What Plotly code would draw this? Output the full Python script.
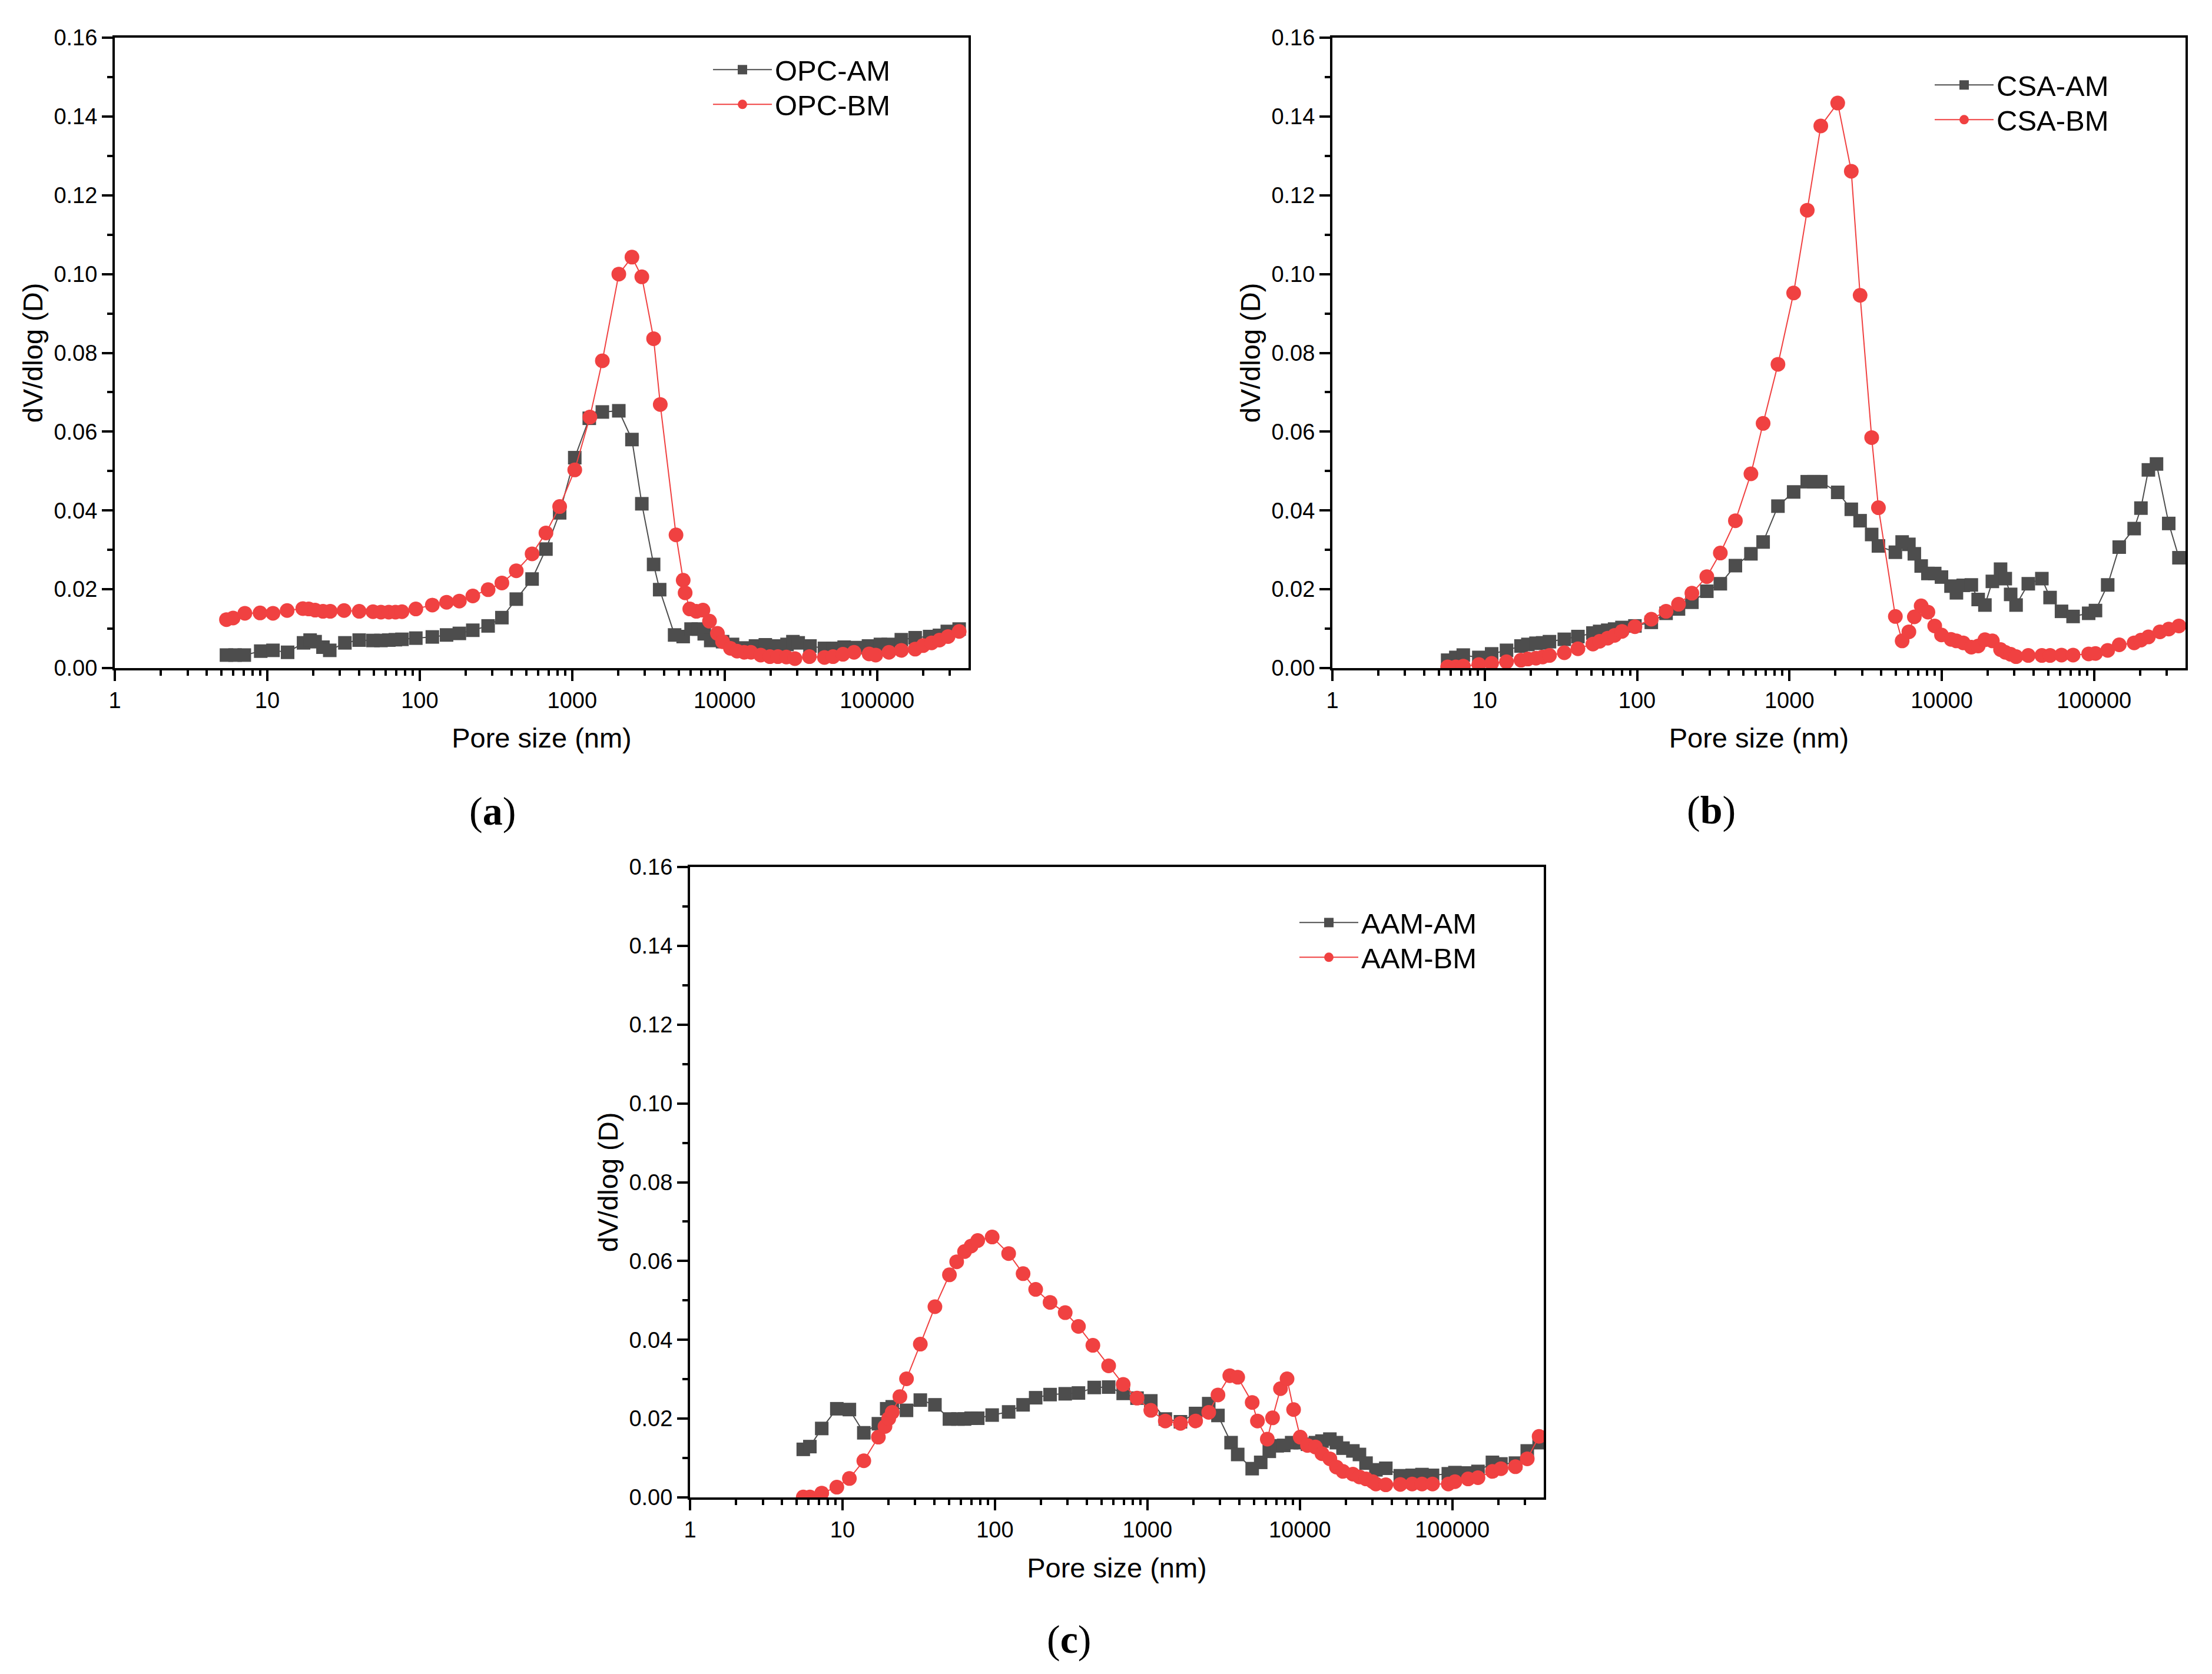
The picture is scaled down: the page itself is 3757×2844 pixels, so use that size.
import plotly.graph_objects as go

W, H = 3757, 2844
PAGE_MARGIN = 8  # default body margin of the html page

# ---------------- data ----------------
# (a) OPC
opc_am_x = [5.4, 6.15, 7.07, 9.06, 10.9, 13.6, 17.3, 19.1, 20.6, 23.2, 25.7, 32.3, 40.1, 49.4, 55.7,
            62.7, 69.3, 76.5, 94.3, 121, 150, 182, 223, 281, 346, 430, 546, 673, 828, 1040,
            1295, 1578, 2023, 2467, 2864, 3422, 3750, 4700, 5350, 6025, 6725, 7350, 8110, 9700, 11270,
            13470, 15950, 18500, 21480, 25670, 28060, 30390, 36310, 45180, 51420, 60840, 72780, 87880,
            105200, 118400, 144300, 177800, 221300, 256700, 289000, 345600]
opc_am_y = [0.0033, 0.0033, 0.0033, 0.0043, 0.0045, 0.0040, 0.0064, 0.0071, 0.0067, 0.0053,
            0.0045, 0.0064, 0.0071, 0.0070, 0.0070, 0.0071, 0.0072, 0.0073, 0.0076, 0.0079,
            0.0084, 0.0088, 0.0096, 0.0107, 0.0128, 0.0175, 0.0226, 0.0302, 0.0394, 0.0534,
            0.0634, 0.0650, 0.0653, 0.0580, 0.0417, 0.0263, 0.0199, 0.0084, 0.0080, 0.0099,
            0.0099, 0.0087, 0.0070, 0.0067, 0.0060, 0.0051, 0.0056, 0.0059, 0.0056, 0.0060,
            0.0067, 0.0064, 0.0056, 0.0050, 0.0050, 0.0053, 0.0052, 0.0056, 0.0060, 0.0060,
            0.0072, 0.0077, 0.0080, 0.0083, 0.0093, 0.0099]
opc_bm_x = [5.40, 5.97, 7.13, 8.97, 10.9, 13.5, 17.1, 18.7, 20.6, 23.2, 25.9, 31.9, 40.1, 49.4, 55.7,
            62.7, 69.3, 76.5, 94.3, 121, 150, 182, 223, 281, 346, 430, 546, 673, 828, 1040,
            1307, 1578, 2023, 2467, 2864, 3422, 3784, 4800, 5350, 5510, 5910, 6530, 7210, 7960, 8970,
            9700, 10930, 12070, 13470, 14870, 17250, 19830, 22350, 25420, 28910, 35990, 45180, 51420,
            59700, 70630, 88720, 97960, 119700, 144300, 177800, 200400, 227900, 256700, 292300, 345600]
opc_bm_y = [0.0123, 0.0127, 0.0139, 0.0140, 0.0139, 0.0146, 0.0151, 0.0150, 0.0147, 0.0144,
            0.0144, 0.0146, 0.0144, 0.0143, 0.0142, 0.0142, 0.0142, 0.0143, 0.0150, 0.0160,
            0.0167, 0.0170, 0.0183, 0.0199, 0.0216, 0.0247, 0.0290, 0.0343, 0.0410, 0.0503,
            0.0637, 0.0780, 0.1000, 0.1043, 0.0993, 0.0836, 0.0669, 0.0338, 0.0223, 0.0191,
            0.0150, 0.0144, 0.0147, 0.0119, 0.0088, 0.0067, 0.0050, 0.0043, 0.0040, 0.0040,
            0.0033, 0.0029, 0.0029, 0.0028, 0.0024, 0.0029, 0.0027, 0.0029, 0.0035, 0.0040,
            0.0036, 0.0033, 0.0040, 0.0045, 0.0048, 0.0057, 0.0064, 0.0071, 0.0080, 0.0093]

# (b) CSA
csa_am_x = [5.71, 6.46, 7.23, 9.15, 11.1, 13.9, 17.3, 19.2, 21.7, 24.0, 26.6, 33.3, 40.9, 51.3, 56.8,
            64.2, 71.2, 79.6, 96.8, 124, 155, 187, 229, 287, 352, 442, 559, 672, 841, 1066,
            1309, 1449, 1607, 2075, 2548, 2911, 3467, 3840, 4960, 5495, 6085, 6607, 7326, 8112, 8990,
            9960, 11500, 12480, 13830, 15640, 17340, 19200, 21490, 24320, 26120, 28330, 30750, 36990,
            45400, 51400, 61110, 72790, 92120, 102100, 122800, 146200, 183200, 203000, 227200, 256800,
            309000, 360500]
csa_am_y = [0.0020, 0.0027, 0.0033, 0.0027, 0.0036, 0.0045, 0.0056, 0.0060, 0.0063, 0.0064,
            0.0067, 0.0073, 0.0080, 0.0089, 0.0093, 0.0096, 0.0099, 0.0103, 0.0107, 0.0116,
            0.0139, 0.0150, 0.0167, 0.0195, 0.0214, 0.0260, 0.0290, 0.0320, 0.0411, 0.0447,
            0.0473, 0.0473, 0.0473, 0.0446, 0.0403, 0.0374, 0.0339, 0.0310, 0.0294, 0.0320,
            0.0314, 0.0290, 0.0259, 0.0240, 0.0240, 0.0231, 0.0208, 0.0191, 0.0210, 0.0211,
            0.0174, 0.0160, 0.0220, 0.0251, 0.0227, 0.0187, 0.0160, 0.0214, 0.0227, 0.0179,
            0.0144, 0.0131, 0.0139, 0.0146, 0.0211, 0.0307, 0.0354, 0.0406, 0.0503, 0.0518,
            0.0367, 0.0280]
csa_bm_x = [5.71, 6.46, 7.23, 9.15, 11.1, 13.9, 17.3, 19.2, 21.7, 24.0, 26.6, 33.3, 40.9, 51.3, 56.8,
            64.2, 71.2, 79.6, 96.8, 124, 155, 187, 229, 287, 352, 442, 559, 672, 841, 1066,
            1309, 1607, 2075, 2548, 2911, 3467, 3840, 4960, 5495, 6085, 6607, 7326, 8112, 8990, 9960,
            11500, 12480, 13830, 15640, 17340, 19200, 21490, 24320, 26120, 28330, 30750, 36990, 45400,
            51400, 61110, 72790, 92120, 102100, 122800, 146200, 183200, 203000, 227200, 270500, 309000,
            360500]
csa_bm_y = [0.0003, 0.0003, 0.0005, 0.0009, 0.0012, 0.0016, 0.0020, 0.0023, 0.0025, 0.0028,
            0.0032, 0.0039, 0.0049, 0.0061, 0.0068, 0.0076, 0.0083, 0.0093, 0.0105, 0.0124,
            0.0144, 0.0162, 0.0190, 0.0232, 0.0292, 0.0374, 0.0493, 0.0621, 0.0771, 0.0952,
            0.1162, 0.1376, 0.1434, 0.1261, 0.0946, 0.0585, 0.0407, 0.0131, 0.0069, 0.0092,
            0.0130, 0.0158, 0.0142, 0.0107, 0.0084, 0.0073, 0.0069, 0.0064, 0.0053, 0.0056,
            0.0072, 0.0069, 0.0047, 0.0040, 0.0035, 0.0029, 0.0032, 0.0032, 0.0032, 0.0033,
            0.0033, 0.0036, 0.0037, 0.0045, 0.0059, 0.0064, 0.0071, 0.0079, 0.0092, 0.0099,
            0.0107]

# (c) AAM
aam_am_x = [5.53, 6.11, 7.31, 9.18, 11.1, 13.8, 17.2, 19.5, 21.2, 26.3, 32.4, 40.4, 50.3, 57.2, 63.2,
            69.8, 77.1, 95.9, 123, 153, 185, 230, 289, 353, 448, 557, 694, 855, 1053, 1311,
            1648, 2071, 2526, 2904, 3540, 3913, 4869, 5539, 6305, 7104, 7845, 8841, 10060, 11220, 12650,
            13970, 15740, 17380, 19200, 22290, 24610, 27180, 31560, 36640, 45600, 54540, 63280, 74190,
            94190, 104100, 127000, 147400, 183400, 208500, 259600, 310300, 371300]
aam_am_y = [0.0122, 0.0129, 0.0175, 0.0225, 0.0223, 0.0164, 0.0187, 0.0225, 0.0230, 0.0221,
            0.0247, 0.0235, 0.0199, 0.0199, 0.0199, 0.0201, 0.0201, 0.0209, 0.0217, 0.0235,
            0.0253, 0.0261, 0.0263, 0.0265, 0.0279, 0.0280, 0.0264, 0.0252, 0.0245, 0.0199,
            0.0192, 0.0213, 0.0238, 0.0208, 0.0139, 0.0109, 0.0073, 0.0089, 0.0117, 0.0131,
            0.0132, 0.0139, 0.0139, 0.0135, 0.0139, 0.0143, 0.0148, 0.0139, 0.0125, 0.0118,
            0.0109, 0.0087, 0.0070, 0.0074, 0.0055, 0.0056, 0.0058, 0.0056, 0.0060, 0.0063,
            0.0062, 0.0066, 0.0089, 0.0085, 0.0087, 0.0118, 0.0139]
aam_bm_x = [5.53, 6.11, 7.31, 9.18, 11.1, 13.8, 17.2, 19.0, 20.1, 21.2, 23.8, 26.3, 32.4, 40.4, 50.3,
            56.1, 63.2, 69.8, 77.1, 95.9, 123, 153, 185, 230, 289, 353, 439, 557, 694, 855,
            1053, 1311, 1648, 2071, 2526, 2904, 3473, 3913, 4869, 5272, 6118, 6623, 7466, 8245, 9101,
            10060, 11220, 12650, 13970, 15740, 17380, 19200, 22290, 24610, 27180, 30030, 31560, 36640,
            45600, 54540, 63280, 74190, 94190, 104100, 127000, 147400, 183400, 208500, 259600, 310300,
            371300]
aam_bm_y = [0.0001, 0.0001, 0.0011, 0.0026, 0.0048, 0.0093, 0.0153, 0.0180, 0.0200, 0.0216,
            0.0256, 0.0301, 0.0389, 0.0484, 0.0565, 0.0598, 0.0624, 0.0638, 0.0652, 0.0661,
            0.0619, 0.0568, 0.0528, 0.0495, 0.0469, 0.0434, 0.0386, 0.0334, 0.0287, 0.0252,
            0.0221, 0.0194, 0.0188, 0.0194, 0.0216, 0.0260, 0.0309, 0.0305, 0.0241, 0.0194,
            0.0148, 0.0202, 0.0276, 0.0301, 0.0223, 0.0153, 0.0132, 0.0128, 0.0111, 0.0098,
            0.0077, 0.0066, 0.0059, 0.0052, 0.0047, 0.0040, 0.0034, 0.0032, 0.0033, 0.0034,
            0.0034, 0.0034, 0.0034, 0.0040, 0.0047, 0.0050, 0.0066, 0.0073, 0.0078, 0.0098,
            0.0155]

series_names = [("OPC-AM", "OPC-BM"), ("CSA-AM", "CSA-BM"), ("AAM-AM", "AAM-BM")]
captions = ["a", "b", "c"]
y_ticks = [0.00, 0.02, 0.04, 0.06, 0.08, 0.10, 0.12, 0.14, 0.16]
x_ticks = [1, 10, 100, 1000, 10000, 100000]
x_tick_text = ["1", "10", "100", "1000", "10000", "100000"]

# ---------------- style ----------------
GRAY = "#4D4D4D"
RED = "#F04141"
FONT = "Liberation Sans, Arial, sans-serif"
TICK_SIZE = 38
TITLE_SIZE = 47
LEGEND_SIZE = 49
FW, FH = W - 2 * PAGE_MARGIN, H - 2 * PAGE_MARGIN

def px_x(v):
    return (v - PAGE_MARGIN) / FW

def px_y(v):
    return 1 - (v - PAGE_MARGIN) / FH

# panels: (left, right, top, bottom) in page pixels
panels = [(195, 1645, 64, 1135), (2263, 3712, 64, 1135), (1172, 2622, 1473, 2544)]
legend_pos = [(1206, 80), (3281, 106), (2202, 1529)]
ROW_GAP = 59
caption_pos = [(836, 1378), (2906, 1376), (1816, 2785)]

data = [((opc_am_x, opc_am_y), (opc_bm_x, opc_bm_y)),
        ((csa_am_x, csa_am_y), (csa_bm_x, csa_bm_y)),
        ((aam_am_x, aam_am_y), (aam_bm_x, aam_bm_y))]

minor_x = [m * 10 ** k for k in range(0, 6) for m in range(2, 10) if m * 10 ** k < 398000]

fig = go.Figure()
layout = dict(
    width=FW, height=FH, margin=dict(l=0, r=0, t=0, b=0),
    paper_bgcolor="white", plot_bgcolor="white", showlegend=True,
    font=dict(family=FONT, color="black", size=TICK_SIZE),
    annotations=[],
)

def legend_box(x, y):
    return dict(x=px_x(x), y=px_y(y), xanchor="left", yanchor="top",
                bgcolor="rgba(0,0,0,0)", borderwidth=0, itemwidth=100,
                font=dict(size=LEGEND_SIZE, family=FONT, color="black"))

for i in range(3):
    sfx = "" if i == 0 else str(i + 1)
    xa, ya = "x" + sfx, "y" + sfx
    leg_am = "legend" if i == 0 else "legend%d" % (2 * i + 1)
    leg_bm = "legend%d" % (2 * i + 2)
    (amx, amy), (bmx, bmy) = data[i]
    nm_am, nm_bm = series_names[i]
    fig.add_trace(go.Scatter(x=amx, y=amy, name=nm_am, mode="lines+markers", xaxis=xa, yaxis=ya,
                             legend=leg_am, showlegend=True, line=dict(color=GRAY, width=2),
                             marker=dict(symbol="square", size=23, color=GRAY, line=dict(width=0))))
    fig.add_trace(go.Scatter(x=bmx, y=bmy, name=nm_bm, mode="lines+markers", xaxis=xa, yaxis=ya,
                             legend=leg_bm, showlegend=True, line=dict(color=RED, width=2),
                             marker=dict(symbol="circle", size=25, color=RED, line=dict(width=0))))
    l, r, t, b = panels[i]
    layout["xaxis" + sfx] = dict(
        domain=[px_x(l), px_x(r)], anchor=ya, type="log", range=[0, 5.6],
        tickvals=x_ticks, ticktext=x_tick_text, ticks="outside", ticklen=18, tickwidth=4,
        tickcolor="black", showline=True, linewidth=4, linecolor="black", mirror=True,
        showgrid=False, zeroline=False, tickfont=dict(size=TICK_SIZE, family=FONT),
        minor=dict(ticks="outside", ticklen=9, tickwidth=4, tickcolor="black", showgrid=False,
                   tickvals=minor_x),
        title=dict(text="Pore size (nm)", font=dict(size=TITLE_SIZE, family=FONT), standoff=29),
        automargin=False,
    )
    layout["yaxis" + sfx] = dict(
        domain=[px_y(b), px_y(t)], anchor=xa, range=[0, 0.16],
        tickvals=y_ticks, tickformat=".2f", ticks="outside", ticklen=18, tickwidth=4,
        tickcolor="black", showline=True, linewidth=4, linecolor="black", mirror=True,
        showgrid=False, zeroline=False, tickfont=dict(size=TICK_SIZE, family=FONT),
        minor=dict(ticks="outside", ticklen=9, tickwidth=4, tickcolor="black", showgrid=False,
                   dtick=0.01),
        title=dict(text="dV/dlog (D)", font=dict(size=TITLE_SIZE, family=FONT), standoff=5),
        automargin=False,
    )
    lx, ly = legend_pos[i]
    layout[leg_am] = legend_box(lx, ly)
    layout[leg_bm] = legend_box(lx, ly + ROW_GAP)
    cx, cy = caption_pos[i]
    layout["annotations"].append(dict(
        x=px_x(cx), y=px_y(cy), xref="paper", yref="paper", showarrow=False,
        text="(<b>%s</b>)" % captions[i], xanchor="center", yanchor="middle",
        font=dict(size=68, family="Liberation Serif, Times New Roman, serif", color="black")))

fig.update_layout(**layout)
fig.write_html("out.html")
